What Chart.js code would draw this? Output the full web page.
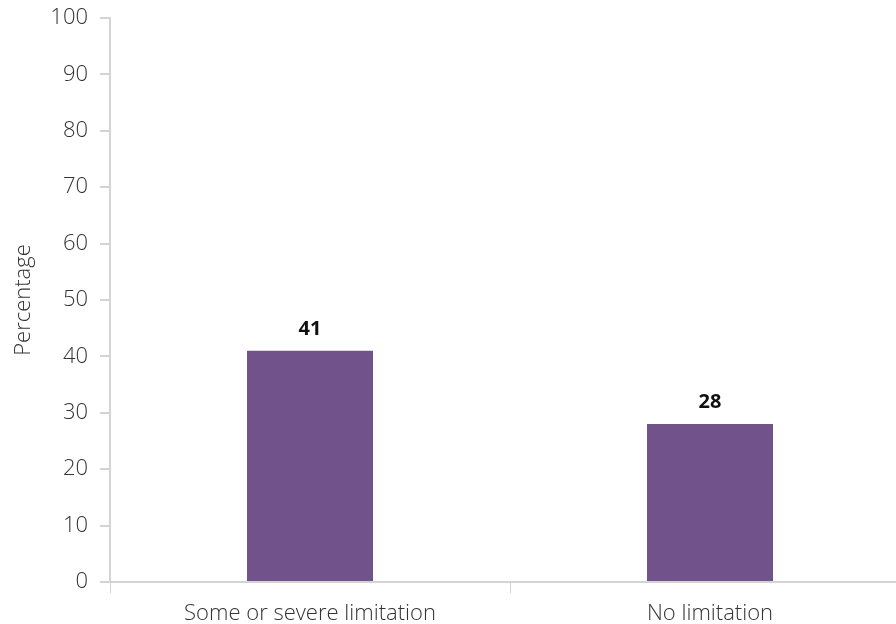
<!DOCTYPE html>
<html>
<head>
<meta charset="utf-8">
<script src="https://cdn.jsdelivr.net/npm/chart.js@4"></script>
<style>
  html, body { margin: 0; padding: 0; background: #fff; overflow: hidden; }
  #wrap { width: 896px; height: 624px; overflow: hidden; }
  #box { width: 910px; height: 624px; }
</style>
</head>
<body>
<div id="wrap"><div id="box"><canvas id="myChart"></canvas></div></div>
<script>
const categories = ["Some or severe limitation", "No limitation"];
const values = [41, 28];
const yTicks = [0, 10, 20, 30, 40, 50, 60, 70, 80, 90, 100];

const font = "'Open Sans', 'Noto Sans', sans-serif";
const axisColor = "#d4d4d4";

// draws the bold value above each bar
const barLabels = {
    id: "barLabels",
    afterDatasetsDraw(chart) {
        const ctx = chart.ctx;
        const meta = chart.getDatasetMeta(0);
        ctx.save();
        ctx.font = "bold 20px " + font;
        ctx.fillStyle = "#111";
        ctx.textAlign = "center";
        ctx.textBaseline = "alphabetic";
        meta.data.forEach((bar, i) => {
            ctx.fillText(values[i], bar.x, bar.y - 16);
        });
        ctx.restore();
    },
};

const data = {
    labels: categories,
    datasets: [
        {
            label: "Percentage",
            backgroundColor: "#71528a",
            data: values,
            categoryPercentage: 1,
            barPercentage: 0.315,
        },
    ],
};

const config = {
    type: "bar",
    data: data,
    plugins: [barLabels],
    options: {
        responsive: true,
        maintainAspectRatio: false,
        animation: false,
        layout: { padding: { top: 18, right: 0, left: 0, bottom: 0 } },
        plugins: { legend: { display: false }, tooltip: { enabled: false } },
        scales: {
            x: {
                grid: { display: true, offset: true, drawOnChartArea: false, drawTicks: true, tickLength: 11, color: axisColor },
                border: { color: axisColor, width: 2 },
                ticks: { color: "#333", font: { family: font, size: 22, weight: 300 }, padding: 8, maxRotation: 0 },
                afterFit(scale) { scale.height = 42; },
            },
            y: {
                min: 0,
                max: 100,
                afterBuildTicks(scale) { scale.ticks = yTicks.map(v => ({ value: v })); },
                grid: { drawOnChartArea: false, drawTicks: true, tickLength: 10, color: axisColor, lineWidth: 2 },
                border: { color: axisColor, width: 2 },
                ticks: { color: "#333", font: { family: font, size: 22, weight: 300 }, padding: 12 },
                title: { display: true, text: "Percentage", color: "#333", font: { family: font, size: 22, weight: 300 }, padding: { top: 11, bottom: 0 } },
                afterFit(scale) {
                    scale.width = 110;
                    scale.paddingTop = 0;
                    scale.paddingBottom = 0;
                },
            },
        },
    },
};

const myChart = new Chart(document.getElementById("myChart"), config);
</script>
</body>
</html>
